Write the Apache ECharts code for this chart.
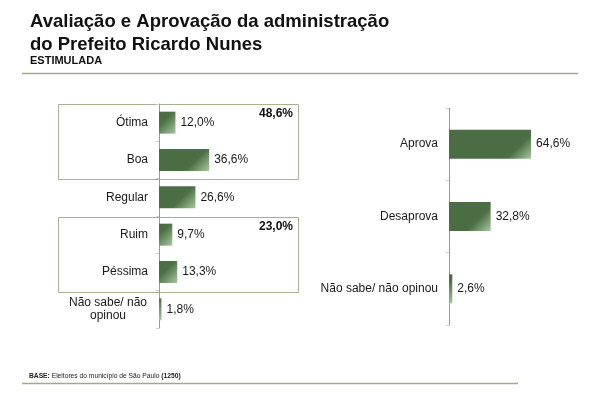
<!DOCTYPE html>
<html>
<head>
<meta charset="utf-8">
<script src="https://cdn.jsdelivr.net/npm/echarts@6/dist/echarts.min.js"></script>
<style>
  html, body { margin: 0; padding: 0; background: #fff; }
  #chart { width: 600px; height: 400px; }
</style>
</head>
<body>
<div id="chart"></div>
<script>
// Avaliação (estimulada)
const avalCats = ["Ótima", "Boa", "Regular", "Ruim", "Péssima", "Não sabe/ não opinou"];
const avalVals = [12.0, 36.6, 26.6, 9.7, 13.3, 1.8];
// totais dos grupos (Ótima+Boa, Ruim+Péssima)
const groupTotals = [48.6, 23.0];

// Aprovação
const aprovCats = ["Aprova", "Desaprova", "Não sabe/ não opinou"];
const aprovVals = [64.6, 32.8, 2.6];

const FONT = "'Liberation Sans', Arial, sans-serif";
const fmt = (v) => v.toFixed(1).replace(".", ",") + "%";

// largura das grades (eixo 0..100)
const GRID_W = [137, 127];
const BAR_H = [22, 29];

// degradê a 45° só no canto inferior direito da barra
const barColor = (gridIdx) => (p) => {
  const w = Math.max(p.value * GRID_W[gridIdx] / 100, 0.5);
  const h = BAR_H[gridIdx];
  const s = 15;
  return new echarts.graphic.LinearGradient(1 - s / w, 1 - s / h, 1, 1, [
    { offset: 0, color: "#4b6d43" },
    { offset: 0.2, color: "#4d7045" },
    { offset: 1, color: "#a8c8a0" },
  ]);
};

const chart = echarts.init(document.getElementById("chart"));

const catAxis = (gridIndex) => ({
  type: "category",
  gridIndex: gridIndex,
  inverse: true,
  axisLine: { lineStyle: { color: "#9a9a9a", width: 1 } },
  axisTick: { show: true, length: 3, lineStyle: { color: "#cfcfcf" } },
  axisLabel: {
    color: "#1a1a1a",
    fontSize: 12,
    fontFamily: FONT,
    margin: 11,
  },
});

const valAxis = (gridIndex) => ({
  type: "value",
  gridIndex: gridIndex,
  min: 0,
  max: 100,
  show: false,
  splitLine: { show: false },
});

const valueLabel = {
  show: true,
  position: "right",
  distance: 5,
  color: "#1a1a1a",
  fontSize: 12,
  fontFamily: FONT,
  formatter: (p) => fmt(p.value),
};

const option = {
  animation: false,
  title: {
    text: "Avaliação e Aprovação da administração\ndo Prefeito Ricardo Nunes",
    subtext: "ESTIMULADA",
    left: 30,
    top: 10,
    padding: 0,
    itemGap: -1,
    textStyle: { fontSize: 18.5, fontWeight: "bold", color: "#111", fontFamily: FONT, lineHeight: 23 },
    subtextStyle: { fontSize: 11, fontWeight: "bold", color: "#111", fontFamily: FONT },
  },
  grid: [
    { left: 159, top: 104, width: GRID_W[0], height: 224 },
    { left: 449, top: 108, width: GRID_W[1], height: 217 },
  ],
  xAxis: [valAxis(0), valAxis(1)],
  yAxis: [
    Object.assign(catAxis(0), {
      data: avalCats,
      axisLabel: Object.assign(catAxis(0).axisLabel, {
        formatter: (v) => v.length > 15
          ? "{c|" + v.replace("/ não ", "/ não}\n{c|") + "}"
          : v,
        rich: { c: { width: 80, align: "center", fontSize: 12, fontFamily: FONT, color: "#1a1a1a", lineHeight: 12.5 } },
      }),
    }),
    Object.assign(catAxis(1), { data: aprovCats }),
  ],
  series: [
    {
      type: "bar",
      xAxisIndex: 0,
      yAxisIndex: 0,
      data: avalVals,
      barWidth: BAR_H[0],
      itemStyle: { color: barColor(0) },
      label: valueLabel,
    },
    {
      type: "bar",
      xAxisIndex: 1,
      yAxisIndex: 1,
      data: aprovVals,
      barWidth: BAR_H[1],
      itemStyle: { color: barColor(1) },
      label: valueLabel,
    },
  ],
  graphic: [
    // linha sob o título
    { type: "line", shape: { x1: 22, y1: 73.5, x2: 578, y2: 73.5 }, style: { stroke: "#a3aa8c", lineWidth: 1.5 } },
    // caixas dos grupos
    { type: "rect", shape: { x: 58.5, y: 104.5, width: 240, height: 75 }, style: { fill: "none", stroke: "#a7b092", lineWidth: 1 } },
    { type: "rect", shape: { x: 58.5, y: 217.5, width: 240, height: 75 }, style: { fill: "none", stroke: "#a7b092", lineWidth: 1 } },
    { type: "text", right: 307, top: 108, style: { text: fmt(groupTotals[0]), font: "bold 12px " + FONT, fill: "#111", textAlign: "right" } },
    { type: "text", right: 307, top: 221, style: { text: fmt(groupTotals[1]), font: "bold 12px " + FONT, fill: "#111", textAlign: "right" } },
    // rodapé
    {
      type: "text", left: 29, top: 373,
      style: {
        text: "{b|BASE:} Eleitores do município de São Paulo {b|(1250)}",
        font: "6.7px " + FONT, fill: "#222",
        rich: { b: { fontWeight: "bold", fontSize: 6.7, fontFamily: FONT, fill: "#222" } },
      },
    },
    { type: "line", shape: { x1: 22, y1: 383.5, x2: 518, y2: 383.5 }, style: { stroke: "#a3aa8c", lineWidth: 1.5 } },
  ],
};

chart.setOption(option);
</script>
</body>
</html>
